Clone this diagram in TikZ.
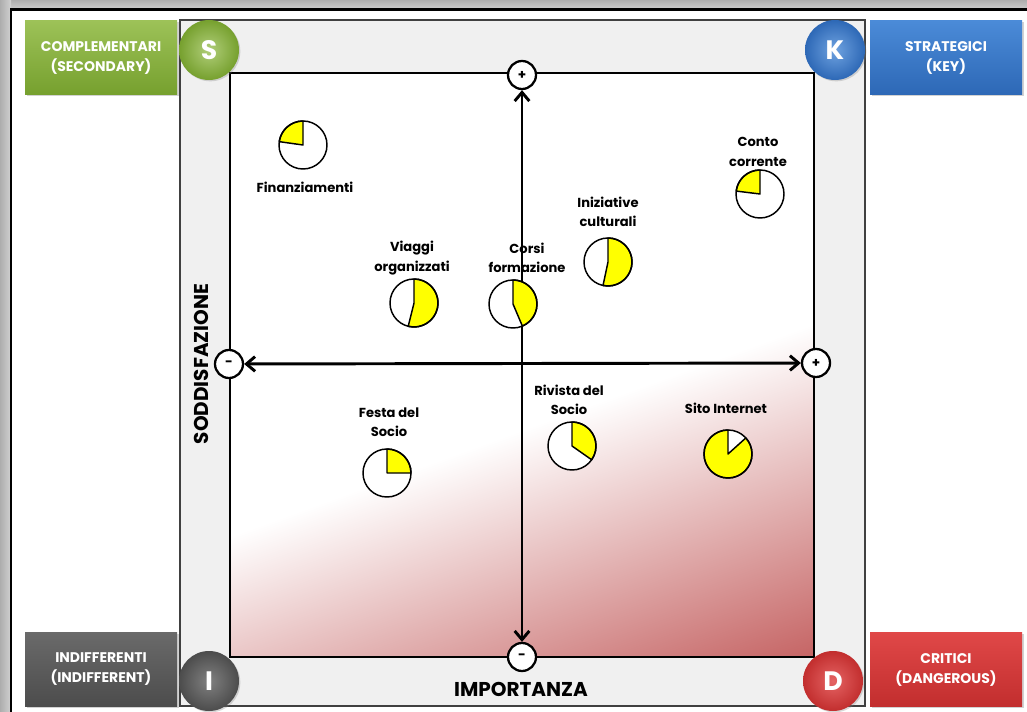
\documentclass[tikz,border=0pt]{standalone}
\usepackage{fontspec}
\setmainfont{Poppins}
\usetikzlibrary{arrows.meta,shadows}
\definecolor{panelgray}{HTML}{F0F0F0}
\definecolor{fadered}{RGB}{198,102,102}
\definecolor{pieyellow}{HTML}{FFFF00}
\definecolor{gtop}{HTML}{9DC258}
\definecolor{gbot}{HTML}{76A02E}
\definecolor{btop}{HTML}{4B8BD8}
\definecolor{bbot}{HTML}{2D68B6}
\definecolor{ktop}{HTML}{6A6A6A}
\definecolor{kbot}{HTML}{4C4C4C}
\definecolor{rtop}{HTML}{E04848}
\definecolor{rbot}{HTML}{C22E2E}
\pgfdeclareverticalshading{redfade}{100bp}{color(0bp)=(fadered); color(25.6bp)=(fadered); color(46bp)=(white); color(100bp)=(white)}
\newcommand\drawpie[3]{%
\begin{scope}[shift={(#1)}, yscale=-1]
\fill[white] (0,0) circle[radius=24];
\filldraw[fill=pieyellow, draw=black, line width=1.1pt, line join=round] (0,0) -- (#2:24) arc[start angle=#2, end angle=#3, radius=24] -- cycle;
\draw[line width=1.1pt] (0,0) circle[radius=24];
\end{scope}}
\begin{document}
\begin{tikzpicture}[x=0.75pt,y=-0.75pt,
  catbox/.style={rectangle, minimum width=114pt, minimum height=56pt, text=white, font=\bfseries\fontsize{10.5}{15}\selectfont, align=center, drop shadow={opacity=0.35, shadow xshift=1.2pt, shadow yshift=-1.2pt}},
  ball/.style={circle, minimum size=45pt, inner sep=0pt, text=white, font=\bfseries\fontsize{20}{22}\selectfont, drop shadow={opacity=0.3, shadow xshift=1pt, shadow yshift=-1pt}},
  sign/.style={circle, draw=black, line width=1.7pt, fill=white, minimum size=21pt, inner sep=0pt, font=\bfseries\fontsize{10}{10}\selectfont},
  axisarrow/.style={line width=2.2pt, {Straight Barb[length=6.5pt,width=11pt]}-{Straight Barb[length=6.5pt,width=11pt]}},
  plabel/.style={align=center, font=\bfseries\fontsize{9.8}{14.5}\selectfont, inner sep=0pt},
  axlabel/.style={font=\bfseries\fontsize{15}{15}\selectfont, inner sep=0pt}]
\useasboundingbox (0,0) rectangle (1027,712);
\fill[white] (0,0) rectangle (1027,712);
% outer frame
\shade[top color=black!32, bottom color=black!20] (0,0) rectangle (1027,9);
\shade[left color=black!32, right color=black!18] (0,0) rectangle (11,712);
\draw[line width=1.8pt] (11,712) -- (11,9.5) -- (1027,9.5);
% panel
\filldraw[fill=panelgray, draw=black!75, line width=0.8pt] (180,20) rectangle (865,706);
% inner square with gradient
\fill[white] (230,73) rectangle (814,657);
\begin{scope}
\clip (230,73) rectangle (814,657);
\begin{scope}[transform canvas={rotate around={20:(522,365)}}]
\shade[shading=redfade] (142,-15) rectangle (902,745);
\end{scope}
\end{scope}
\draw[line width=1.9pt] (230,73) rectangle (814,657);
% axis
\node[sign] (ptop) at (522,75) {+};
\node[sign] (pbot) at (522,657) {-};
\node[sign] (pleft) at (229,364) {-};
\node[sign] (pright) at (816,363) {+};
\draw[axisarrow] (ptop) -- (pbot);
\draw[axisarrow] (pleft) -- (pright);
% axis labels
\node[axlabel, rotate=90] (ysat) at (201,364) {SODDISFAZIONE};
\node[axlabel] (ximp) at (521,689) {IMPORTANZA};
% category boxes
\node[catbox, top color=gtop, bottom color=gbot] (bsec) at (101,57.5) {COMPLEMENTARI\\(SECONDARY)};
\node[catbox, top color=btop, bottom color=bbot] (bkey) at (946,57.5) {STRATEGICI\\(KEY)};
\node[catbox, top color=ktop, bottom color=kbot] (bind) at (101,669.5) {INDIFFERENTI\\(INDIFFERENT)};
\node[catbox, top color=rtop, bottom color=rbot] (bdan) at (946,669.5) {CRITICI\\(DANGEROUS)};
% corner balls
\node[ball, inner color=gtop!80!white, outer color=gbot] (cs) at (209,50) {S};
\node[ball, inner color=btop!80!white, outer color=bbot] (ck) at (835,50) {K};
\node[ball, inner color=ktop!85!white, outer color=kbot] (ci) at (209,681) {I};
\node[ball, inner color=rtop!85!white, outer color=rbot] (cd) at (833,681) {D};
% pies
\coordinate (pfin) at (303,145);
\coordinate (pcon) at (760,194);
\coordinate (pini) at (608,262);
\coordinate (pvia) at (414,303);
\coordinate (pcor) at (513,304);
\coordinate (pfes) at (387,473);
\coordinate (priv) at (572,446);
\coordinate (psit) at (728,454);
\drawpie{pfin}{90}{172}
\drawpie{pcon}{90}{173}
\drawpie{pini}{-102}{90}
\drawpie{pvia}{-104}{90}
\drawpie{pcor}{-67}{90}
\drawpie{pfes}{0}{90}
\drawpie{priv}{-35}{90}
\drawpie{psit}{90}{402}
% labels
\node[plabel] (lfin) at (305,187) {Finanziamenti};
\node[plabel] (lcon) at (758,152) {Conto\\corrente};
\node[plabel] (lini) at (608,212) {Iniziative\\culturali};
\node[plabel] (lvia) at (412,258) {Viaggi\\organizzati};
\node[plabel] (lcor) at (527,258) {Corsi\\formazione};
\node[plabel] (lfes) at (389,422) {Festa del\\Socio};
\node[plabel] (lriv) at (569,400) {Rivista del\\Socio};
\node[plabel] (lsit) at (726,408) {Sito Internet};
\end{tikzpicture}
\end{document}
